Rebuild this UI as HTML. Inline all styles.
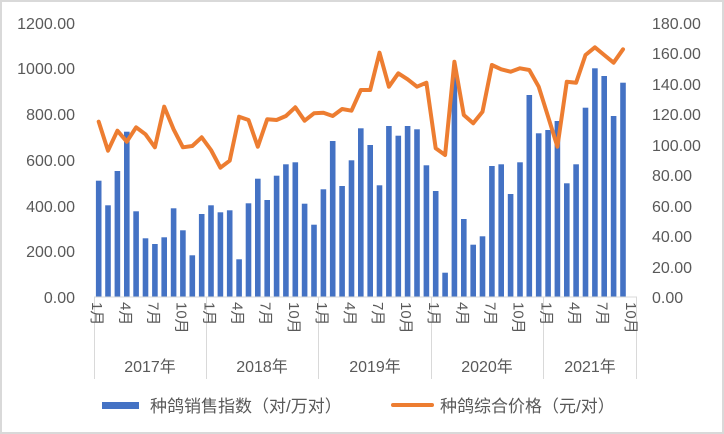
<!DOCTYPE html>
<html><head><meta charset="utf-8"><style>
html,body{margin:0;padding:0;background:#fff;}
svg{display:block;font-family:"Liberation Sans","Noto Sans CJK SC",sans-serif;}
</style></head><body>
<svg id="c" width="724" height="434" viewBox="0 0 724 434" xmlns="http://www.w3.org/2000/svg">
<rect x="1" y="1" width="722" height="432" fill="#fff" stroke="#d9d9d9" stroke-width="2"/>
<g fill="#595959" font-size="16" text-anchor="end">
<text x="75" y="29">1200.00</text><text x="75" y="74">1000.00</text><text x="75" y="120">800.00</text>
<text x="75" y="166">600.00</text><text x="75" y="212">400.00</text><text x="75" y="257">200.00</text><text x="75" y="303">0.00</text>
</g>
<g fill="#595959" font-size="16">
<text x="652" y="29">180.00</text><text x="652" y="59">160.00</text><text x="652" y="90">140.00</text>
<text x="652" y="120">120.00</text><text x="652" y="151">100.00</text><text x="652" y="181">80.00</text>
<text x="652" y="212">60.00</text><text x="652" y="242">40.00</text><text x="652" y="273">20.00</text><text x="652" y="303">0.00</text>
</g>
<g id="bars" fill="#4472C4"></g>
<polyline id="ln" fill="none" stroke="#ED7D31" stroke-width="4" stroke-linejoin="round" stroke-linecap="round"/>
<g stroke="#d9d9d9" stroke-width="1">
<line x1="94" y1="297" x2="637" y2="297"/>
<line x1="94.5" y1="297" x2="94.5" y2="379"/><line x1="206.5" y1="297" x2="206.5" y2="379"/>
<line x1="318.5" y1="297" x2="318.5" y2="379"/><line x1="431.5" y1="297" x2="431.5" y2="379"/>
<line x1="543.5" y1="297" x2="543.5" y2="379"/><line x1="636.5" y1="297" x2="636.5" y2="379"/>
</g>
<g id="ml" fill="#595959" font-size="15"></g>
<g fill="#595959" font-size="16" text-anchor="middle">
<text x="150" y="372">2017年</text><text x="262" y="372">2018年</text><text x="375" y="372">2019年</text>
<text x="487" y="372">2020年</text><text x="590" y="372">2021年</text>
</g>
<rect x="102" y="402" width="37" height="7" fill="#4472C4"/>
<text x="150" y="412" fill="#595959" font-size="17">种鸽销售指数（对/万对）</text>
<line x1="393" y1="405" x2="432" y2="405" stroke="#ED7D31" stroke-width="4" stroke-linecap="round"/>
<text x="440" y="412" fill="#595959" font-size="17">种鸽综合价格（元/对）</text>
</svg>
<script>
var ns="http://www.w3.org/2000/svg";
var tops=[180.7,205.3,171,131.7,211.3,238.3,244,237.3,208.3,230.3,255.3,214,205.3,212.3,210.3,259.3,203.3,178.7,200,175.7,164.3,162.3,203.7,224.7,189.3,141,186,160.3,128.3,145,185.3,126,135.7,126,129.3,165.3,191,272.7,76.7,219,244.7,236.3,166,164.3,194,162.3,95,133.3,130,121,183.3,164.3,107.7,68.3,76,116,82.7];
var ly=[121.7,150.7,130.7,141.7,127.3,134.3,147.3,106.7,129.3,147.3,146,137.3,150,167.7,160.7,116.7,120,146.7,119.3,120,116,107.3,120.7,113.3,112.7,116,109,110.7,90,90,52.7,86.7,73.3,79.3,86.7,82.7,148.3,155,61.7,115,123.3,111.7,65,69.3,71.7,68.3,70,86.7,116.7,146.7,81.7,82.7,55,47.3,55,62.7,49.3];
var w=9.362,x0=94,b=document.getElementById('bars'),pts=[];
for(var i=0;i<tops.length;i++){var cx=x0+w*(i+0.5);var r=document.createElementNS(ns,'rect');
r.setAttribute('x',(cx-2.8).toFixed(1));r.setAttribute('y',tops[i]);r.setAttribute('width','5.6');r.setAttribute('height',(296.5-tops[i]).toFixed(1));b.appendChild(r);
pts.push(cx.toFixed(1)+','+ly[i]);}
document.getElementById('ln').setAttribute('points',pts.join(' '));
var ml=document.getElementById('ml');
for(var y=0;y<5;y++){for(var m=0;m<4;m++){var idx=y*12+m*3;if(idx>57)continue;var cx=x0+w*(idx+0.5);
var t=document.createElementNS(ns,'text');t.setAttribute('transform','translate('+(cx-6.5)+',302) rotate(90)');t.textContent=(m*3+1)+'月';ml.appendChild(t);}}
</script>
</body></html>
